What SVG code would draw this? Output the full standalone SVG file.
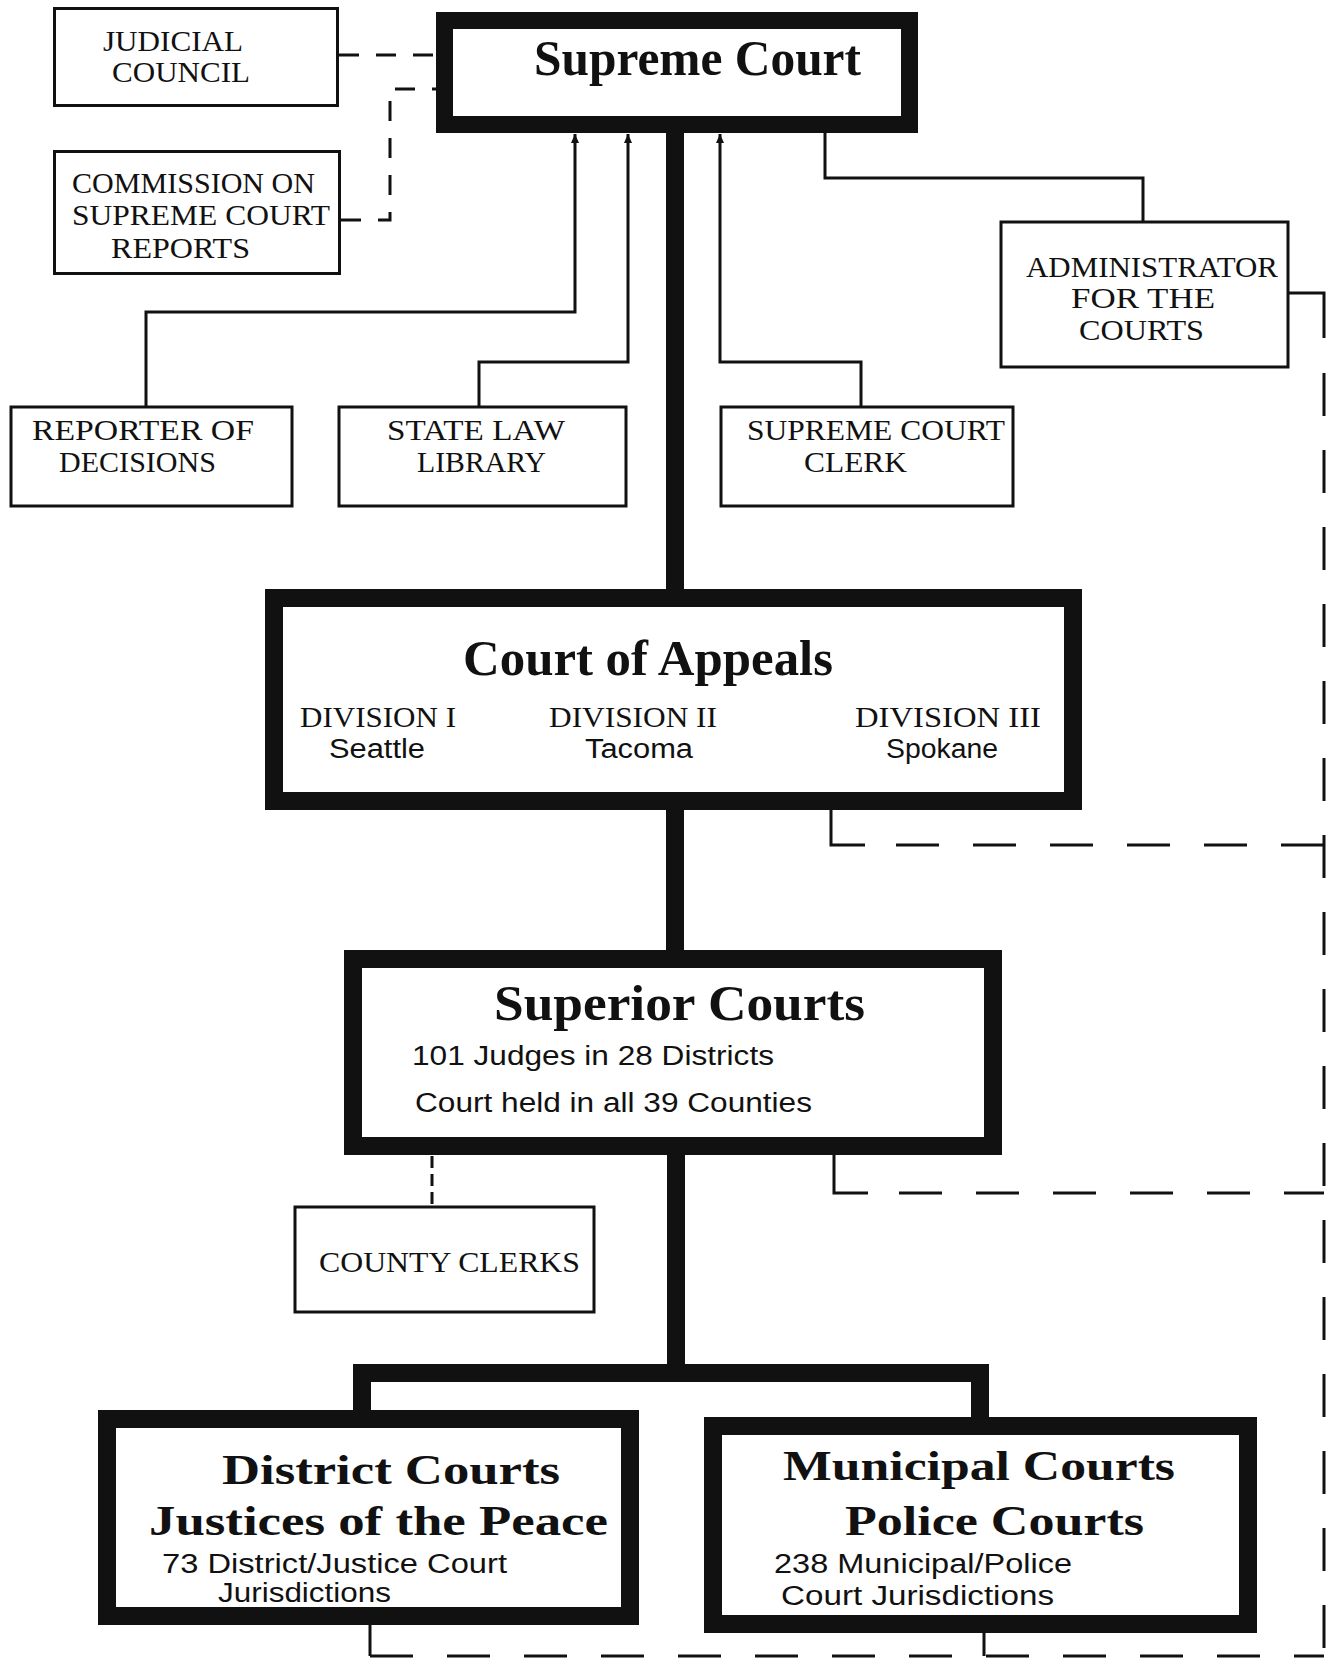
<svg xmlns="http://www.w3.org/2000/svg" width="1328" height="1659" viewBox="0 0 1328 1659">
<style>
.bg{fill:#ffffff}
.thin{fill:#ffffff;stroke:#111;stroke-width:3}
.thick{fill:#ffffff;stroke:#111;stroke-width:18}
.c{fill:none;stroke:#111;stroke-width:3}
.ck{fill:none;stroke:#111;stroke-width:18;stroke-linejoin:miter}
.ds{fill:none;stroke:#111;stroke-width:3;stroke-dasharray:20 17}
.dl{fill:none;stroke:#111;stroke-width:3;stroke-dasharray:43 34}
.dt{fill:none;stroke:#111;stroke-width:3;stroke-dasharray:12 6}
.h{font-family:"Liberation Serif","Times New Roman",serif;font-weight:bold;font-size:50px;fill:#111}
.h2{font-family:"Liberation Serif","Times New Roman",serif;font-weight:bold;font-size:43px;fill:#111}
.t{font-family:"Liberation Serif","Times New Roman",serif;font-size:29px;fill:#111}
.s{font-family:"Liberation Sans Narrow","Liberation Sans",Arial,sans-serif;font-size:27px;fill:#111}
</style>
<defs>
<marker id="arr" markerUnits="userSpaceOnUse" markerWidth="10" markerHeight="8" refX="9" refY="4" orient="auto-start-reverse">
<path d="M0,0 L9,4 L0,8 z" fill="#111"/>
</marker>
</defs>
<rect class="bg" x="0" y="0" width="1328" height="1659"/>

<g id="connectors">
<path class="c" d="M575,134 V312 H146 V407" marker-start="url(#arr)"/>
<path class="c" d="M628,134 V362 H479 V407" marker-start="url(#arr)"/>
<path class="c" d="M720,134 V362 H861 V407" marker-start="url(#arr)"/>
<path class="c" d="M825,133 V178 H1143 V222"/>
<path class="ds" d="M339,55 H436"/>
<path class="ds" d="M341,220 H390 V89 H436"/>
<path class="c" d="M1288,293 H1324 V338"/>
<path class="dl" d="M1324,373 V1657"/>
<path class="ck" d="M675,132 V590"/>
<path class="ck" d="M675,810 V950"/>
<path class="ck" d="M676,1155 V1373"/>
<path class="ck" d="M362,1411 V1373 H980 V1418"/>
<path class="c" d="M831,810 V845 H865"/>
<path class="dl" d="M896,845 H1324"/>
<path class="c" d="M834,1155 V1193 H868"/>
<path class="dl" d="M899,1193 H1324"/>
<path class="dt" d="M432,1156 V1207"/>
<path class="c" d="M370,1625 V1656"/>
<path class="c" d="M984,1633 V1656"/>
<path class="dl" d="M370,1656 H1324"/>
</g>

<g id="supreme-court">
<rect class="thick" x="444.5" y="20.5" width="465" height="104" style="stroke-width:17"/>
<text class="h" x="534" y="75" textLength="327" lengthAdjust="spacingAndGlyphs">Supreme Court</text>
</g>

<g id="judicial-council">
<rect class="thin" x="54.5" y="8.5" width="283" height="97"/>
<text class="t" x="103" y="51" textLength="140" lengthAdjust="spacingAndGlyphs">JUDICIAL</text>
<text class="t" x="112" y="82" textLength="138" lengthAdjust="spacingAndGlyphs">COUNCIL</text>
</g>

<g id="commission">
<rect class="thin" x="54.5" y="151.5" width="285" height="122"/>
<text class="t" x="72" y="193" textLength="243" lengthAdjust="spacingAndGlyphs">COMMISSION ON</text>
<text class="t" x="72" y="225" textLength="258" lengthAdjust="spacingAndGlyphs">SUPREME COURT</text>
<text class="t" x="111" y="258" textLength="139" lengthAdjust="spacingAndGlyphs">REPORTS</text>
</g>

<g id="reporter">
<rect class="thin" x="11" y="407" width="281" height="99"/>
<text class="t" x="32" y="440" textLength="222" lengthAdjust="spacingAndGlyphs">REPORTER  OF</text>
<text class="t" x="59" y="472" textLength="157" lengthAdjust="spacingAndGlyphs">DECISIONS</text>
</g>

<g id="library">
<rect class="thin" x="339" y="407" width="287" height="99"/>
<text class="t" x="387" y="440" textLength="178" lengthAdjust="spacingAndGlyphs">STATE  LAW</text>
<text class="t" x="417" y="472" textLength="129" lengthAdjust="spacingAndGlyphs">LIBRARY</text>
</g>

<g id="clerk">
<rect class="thin" x="721" y="407" width="292" height="99"/>
<text class="t" x="747" y="440" textLength="258" lengthAdjust="spacingAndGlyphs">SUPREME COURT</text>
<text class="t" x="804" y="472" textLength="103" lengthAdjust="spacingAndGlyphs">CLERK</text>
</g>

<g id="administrator">
<rect class="thin" x="1001" y="222" width="287" height="145"/>
<text class="t" x="1026" y="277" textLength="252" lengthAdjust="spacingAndGlyphs">ADMINISTRATOR</text>
<text class="t" x="1071" y="308" textLength="144" lengthAdjust="spacingAndGlyphs">FOR  THE</text>
<text class="t" x="1079" y="340" textLength="125" lengthAdjust="spacingAndGlyphs">COURTS</text>
</g>

<g id="court-of-appeals">
<rect class="thick" x="274" y="598" width="799" height="203"/>
<text class="h" x="463" y="675" textLength="370" lengthAdjust="spacingAndGlyphs">Court  of  Appeals</text>
<text class="t" x="300" y="727" textLength="156" lengthAdjust="spacingAndGlyphs">DIVISION I</text>
<text class="s" x="329" y="758" textLength="96" lengthAdjust="spacingAndGlyphs">Seattle</text>
<text class="t" x="549" y="727" textLength="168" lengthAdjust="spacingAndGlyphs">DIVISION II</text>
<text class="s" x="585" y="758" textLength="108" lengthAdjust="spacingAndGlyphs">Tacoma</text>
<text class="t" x="855" y="727" textLength="186" lengthAdjust="spacingAndGlyphs">DIVISION   III</text>
<text class="s" x="886" y="758" textLength="112" lengthAdjust="spacingAndGlyphs">Spokane</text>
</g>

<g id="superior-courts">
<rect class="thick" x="353" y="959" width="640" height="187"/>
<text class="h" x="494" y="1020" textLength="371" lengthAdjust="spacingAndGlyphs">Superior   Courts</text>
<text class="s" x="412" y="1065" textLength="362" lengthAdjust="spacingAndGlyphs">101 Judges in 28  Districts</text>
<text class="s" x="415" y="1112" textLength="397" lengthAdjust="spacingAndGlyphs">Court held in all 39 Counties</text>
</g>

<g id="county-clerks">
<rect class="thin" x="295" y="1207" width="299" height="105"/>
<text class="t" x="319" y="1272" textLength="261" lengthAdjust="spacingAndGlyphs">COUNTY CLERKS</text>
</g>

<g id="district-courts">
<rect class="thick" x="107" y="1419" width="523" height="197"/>
<text class="h2" x="222" y="1484" textLength="338" lengthAdjust="spacingAndGlyphs">District  Courts</text>
<text class="h2" x="149" y="1535" textLength="459" lengthAdjust="spacingAndGlyphs">Justices  of  the  Peace</text>
<text class="s" x="162" y="1573" textLength="345" lengthAdjust="spacingAndGlyphs">73 District/Justice Court</text>
<text class="s" x="218" y="1602" textLength="173" lengthAdjust="spacingAndGlyphs">Jurisdictions</text>
</g>

<g id="municipal-courts">
<rect class="thick" x="713" y="1426" width="535" height="198"/>
<text class="h2" x="783" y="1480" textLength="392" lengthAdjust="spacingAndGlyphs">Municipal  Courts</text>
<text class="h2" x="845" y="1535" textLength="299" lengthAdjust="spacingAndGlyphs">Police Courts</text>
<text class="s" x="774" y="1573" textLength="298" lengthAdjust="spacingAndGlyphs">238  Municipal/Police</text>
<text class="s" x="781" y="1605" textLength="273" lengthAdjust="spacingAndGlyphs">Court  Jurisdictions</text>
</g>
</svg>
